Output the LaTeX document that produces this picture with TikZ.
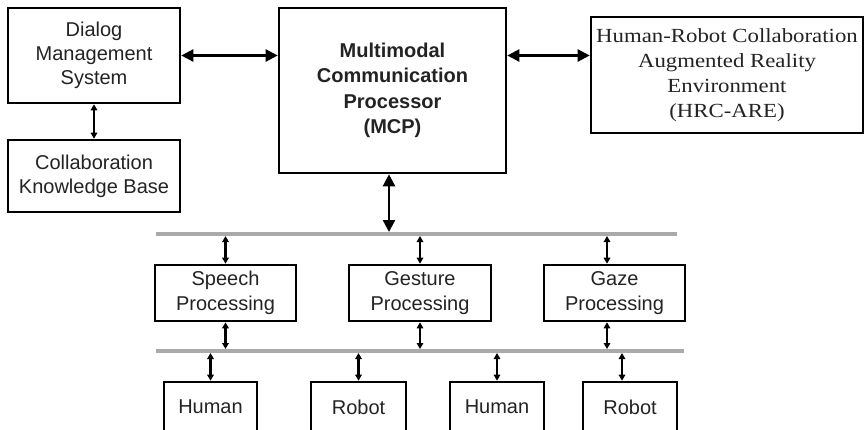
\documentclass[tikz,border=0pt]{standalone}
\usepackage{fontspec}
\setmainfont{Liberation Sans}
\newfontfamily\hrcfont[FakeStretch=1.14]{Liberation Serif}
\usetikzlibrary{arrows.meta,calc}
\definecolor{txt}{RGB}{35,35,35}
\definecolor{bar}{RGB}{170,170,170}
\tikzset{
  blk/.style={draw=black, line width=2.6pt, fill=white, align=center, inner sep=0pt, text=txt,
    font=\fontsize{20}{24}\selectfont},
  bigarrow/.style={line width=2.4pt, {Triangle[length=12pt,width=12pt]}-{Triangle[length=12pt,width=12pt]}},
  smallarrow/.style={line width=2.2pt, {Triangle[length=6pt,width=6.5pt]}-{Triangle[length=6pt,width=6.5pt]}},
  busbar/.style={draw=bar, line width=4pt}
}
\begin{document}
\begin{tikzpicture}[x=1pt,y=-1pt]
\useasboundingbox (0,0) rectangle (866,429);
\clip (0,0) rectangle (866,429);
\fill[white] (0,0) rectangle (866,429);

% upper blocks
\node[blk, minimum width=172, minimum height=95] (dialog) at (94,55.5) {Dialog\\Management\\System};
\node[blk, minimum width=172, minimum height=72] (collab) at (94,176) {Collaboration\\Knowledge Base};
\node[blk, minimum width=227, minimum height=165, font=\fontsize{20}{25.5}\selectfont\bfseries] (mcp) at (392.5,90.5) {Multimodal\\Communication\\Processor\\(MCP)};
\node[blk, minimum width=272, minimum height=116, font=\hrcfont\fontsize{20}{25}\selectfont] (hrc) at (727,75) {Human-Robot Collaboration\\Augmented Reality\\Environment\\(HRC-ARE)};

% bus bars
\coordinate (b1l) at (156,234);
\coordinate (b1r) at (677,234);
\coordinate (b2l) at (156,351);
\coordinate (b2r) at (684,351);
\draw[busbar] (b1l) -- (b1r);
\draw[busbar] (b2l) -- (b2r);

% processing blocks
\node[blk, minimum width=141, minimum height=56, font=\fontsize{20}{25}\selectfont] (speech) at (225.5,293) {Speech\\Processing};
\node[blk, minimum width=142, minimum height=56, font=\fontsize{20}{25}\selectfont] (gesture) at (420,293) {Gesture\\Processing};
\node[blk, minimum width=141, minimum height=56, font=\fontsize{20}{25}\selectfont] (gaze) at (614.5,293) {Gaze\\Processing};

% agents
\node[blk, minimum width=93, minimum height=50] (h1) at (210.5,407) {Human};
\node[blk, minimum width=95, minimum height=50] (r1) at (358.5,407) {Robot};
\node[blk, minimum width=94, minimum height=50] (h2) at (497,407) {Human};
\node[blk, minimum width=94, minimum height=50] (r2) at (630,407) {Robot};

% main arrows
\draw[bigarrow] (dialog.east) -- (dialog.east -| mcp.west);
\draw[bigarrow] (mcp.east |- dialog.east) -- (hrc.west |- dialog.east);
\draw[smallarrow] (dialog.south) -- (collab.north);
\draw[bigarrow, shorten >=2pt] ([xshift=-3.5pt]mcp.south) -- ([xshift=-3.5pt]mcp.south |- b1l);

% processing arrows
\draw[smallarrow, shorten <=2pt] (speech.north |- b1l) -- (speech.north);
\draw[smallarrow, shorten <=2pt] (gesture.north |- b1l) -- (gesture.north);
\draw[smallarrow, shorten <=2pt] ([xshift=-7.5pt]gaze.north |- b1l) -- ([xshift=-7.5pt]gaze.north);
\draw[smallarrow, shorten >=2pt] (speech.south) -- (speech.south |- b2l);
\draw[smallarrow, shorten >=2pt] (gesture.south) -- (gesture.south |- b2l);
\draw[smallarrow, shorten >=2pt] ([xshift=-7.5pt]gaze.south) -- ([xshift=-7.5pt]gaze.south |- b2l);

% agent arrows
\draw[smallarrow, shorten <=2pt] (h1.north |- b2l) -- (h1.north);
\draw[smallarrow, shorten <=2pt] (r1.north |- b2l) -- (r1.north);
\draw[smallarrow, shorten <=2pt] (h2.north |- b2l) -- (h2.north);
\draw[smallarrow, shorten <=2pt] ([xshift=-8pt]r2.north |- b2l) -- ([xshift=-8pt]r2.north);
\end{tikzpicture}
\end{document}
